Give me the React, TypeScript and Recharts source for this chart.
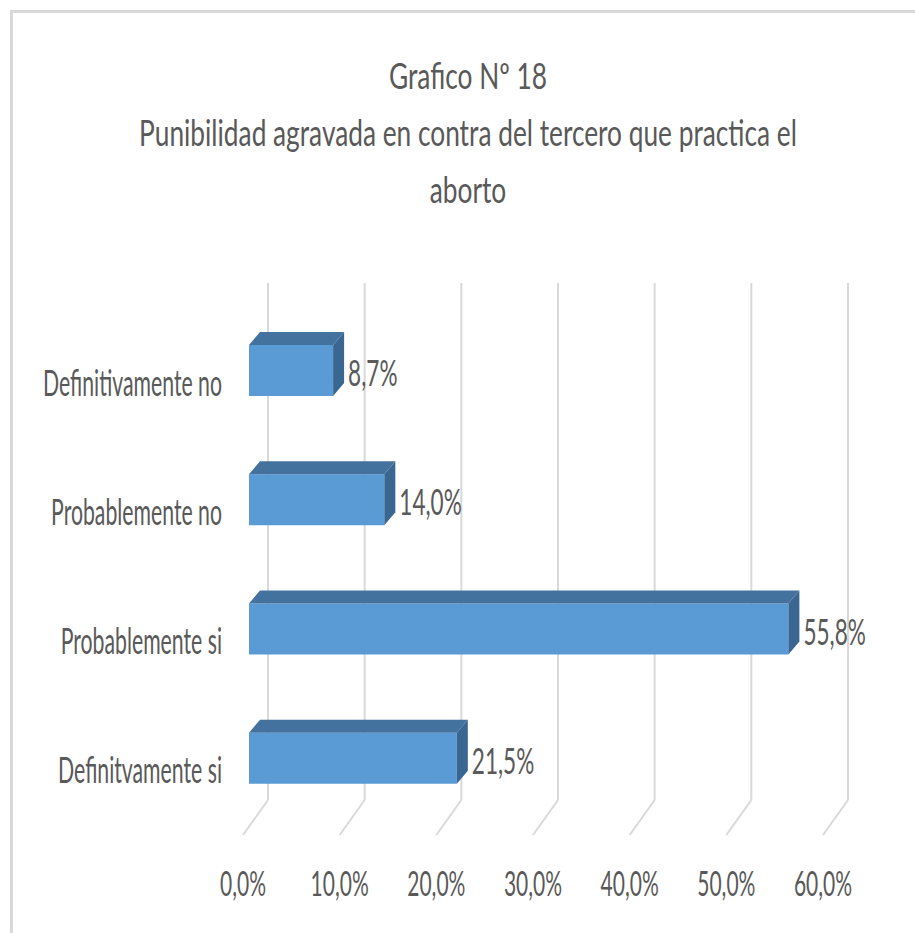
import React from 'react';
import { BarChart, Bar, XAxis, YAxis, CartesianGrid, LabelList } from 'recharts';

const categories = ['Definitivamente no', 'Probablemente no', 'Probablemente si', 'Definitvamente si'];
const values = [8.7, 14.0, 55.8, 21.5];
const xTicks = [0, 10, 20, 30, 40, 50, 60];
const titleLines = ['Grafico Nº 18', 'Punibilidad agravada en contra del tercero que practica el', 'aborto'];

const data = categories.map((c, i) => ({ name: c, value: values[i] }));

const TXT = '#595959';
const FONT = 'Lato, "Open Sans", sans-serif';
const DX = 11;
const DY = 13;
const BACK = 19;

const fmt = (v: number) => v.toFixed(1).replace('.', ',') + '%';

function SText({ x, y, anchor, size, sx, children }: any) {
  return (
    <text
      transform={`translate(${x},${y}) scale(${sx},1)`}
      textAnchor={anchor}
      fontSize={size}
      fontFamily={FONT}
      fill={TXT}
    >
      {children}
    </text>
  );
}

const Box = (props: any) => {
  const { x, y, width, height } = props;
  if (width <= 0) return null;
  const top = `${x},${y} ${x + width},${y} ${x + width + DX},${y - DY} ${x + DX},${y - DY}`;
  const side = `${x + width},${y} ${x + width + DX},${y - DY} ${x + width + DX},${y + height - DY} ${x + width},${y + height}`;
  return (
    <g>
      <rect x={x} y={y} width={width} height={height} fill="#5b9bd5" />
      <polygon points={top} fill="#44729e" />
      <polygon points={side} fill="#3a6791" />
    </g>
  );
};

const GridLine = (props: any) => {
  const { x1, y1, y2 } = props;
  const bx = x1 + BACK;
  return (
    <g key={props.key}>
      <line x1={bx} y1={y1 - 23} x2={bx} y2={y2 - 23} stroke="#d9d9d9" strokeWidth={2} />
      <line x1={bx} y1={y2 - 23} x2={x1 - 6} y2={y2 + 12} stroke="#d9d9d9" strokeWidth={2} />
    </g>
  );
};

const XTick = (props: any) => {
  const { x, y, payload } = props;
  return (
    <SText x={x - 6} y={y + 73} anchor="middle" size={35} sx={0.6}>
      {fmt(payload.value)}
    </SText>
  );
};

const YTick = (props: any) => {
  const { x, y, payload } = props;
  return (
    <SText x={x - 27} y={y + 25} anchor="end" size={36} sx={0.59}>
      {payload.value}
    </SText>
  );
};

const ValueLabel = (props: any) => {
  const { x, y, width, height, value } = props;
  return (
    <SText x={x + width + DX + 4} y={y + height - 10} anchor="start" size={37} sx={0.61}>
      {fmt(value)}
    </SText>
  );
};

export default function App() {
  return (
    <div style={{ position: 'absolute', left: 0, top: 0, width: 915, height: 933, background: '#fff' }}>
      <div
        style={{
          position: 'absolute',
          left: 10,
          top: 10,
          width: 905,
          height: 923,
          borderLeft: '3px solid #d9d9d9',
          borderTop: '3px solid #d9d9d9',
          boxSizing: 'border-box',
        }}
      />
      <div style={{ position: 'absolute', left: 0, top: 0 }}>
        <BarChart
          width={915}
          height={933}
          data={data}
          layout="vertical"
          margin={{ top: 306, right: 86, bottom: 0, left: 0 }}
          barSize={51}
        >
          <CartesianGrid horizontal={false} vertical={GridLine} />
          <XAxis
            type="number"
            domain={[0, 60]}
            ticks={xTicks}
            axisLine={false}
            tickLine={false}
            tickSize={0}
            tickMargin={0}
            height={110}
            tick={XTick}
            interval={0}
          />
          <YAxis
            type="category"
            dataKey="name"
            width={249}
            axisLine={false}
            tickLine={false}
            tickSize={0}
            tickMargin={0}
            tick={YTick}
            interval={0}
          />
          <Bar dataKey="value" shape={Box} isAnimationActive={false}>
            <LabelList dataKey="value" content={ValueLabel} />
          </Bar>
        </BarChart>
      </div>
      <svg width={915} height={933} style={{ position: 'absolute', left: 0, top: 0, pointerEvents: 'none' }}>
        {titleLines.map((t, i) => (
          <SText key={i} x={468} y={89 + i * 57} anchor="middle" size={36} sx={0.73}>
            {t}
          </SText>
        ))}
      </svg>
    </div>
  );
}
